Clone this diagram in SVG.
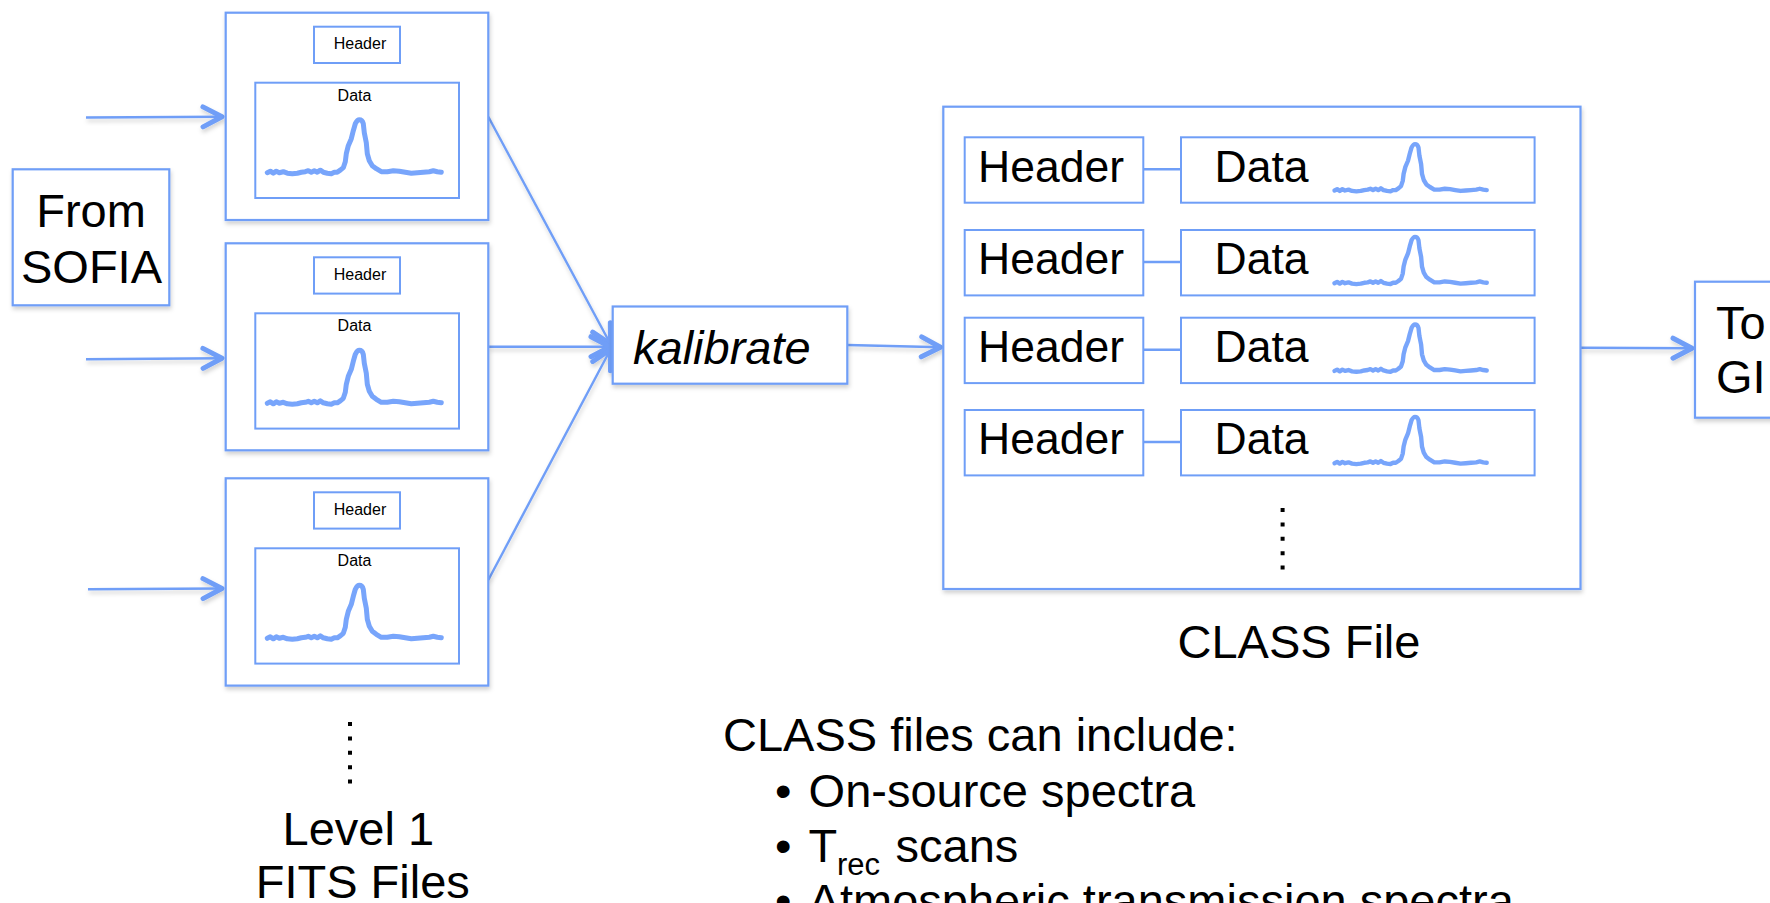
<svg xmlns="http://www.w3.org/2000/svg" xmlns:xlink="http://www.w3.org/1999/xlink" width="1770" height="903" viewBox="0 0 1770 903">
<style>
  .box { fill: #ffffff; stroke: #6f9ef7; stroke-width: 2.2; }
  .inner { fill: #ffffff; stroke: #6f9ef7; stroke-width: 2; }
  .t { font-family: "Liberation Sans", Arial, Helvetica, sans-serif; fill: #000000; }
  .big { font-size: 47px; }
  .row { font-size: 44.5px; }
  .small { font-size: 16px; }
  .conn { fill: none; stroke: #6f9ef7; stroke-width: 2.4; }
  .spec { fill: none; stroke: #78a5fb; stroke-width: 5; stroke-linecap: round; stroke-linejoin: round; }
  .dots { fill: none; stroke: #000000; stroke-width: 4; stroke-dasharray: 4 10.4; }
</style>
<defs>
  <filter id="shadow" x="-10%" y="-10%" width="120%" height="125%">
    <feDropShadow dx="1" dy="3" stdDeviation="2" flood-color="#000000" flood-opacity="0.18"/>
  </filter>
  <marker id="chev" markerUnits="userSpaceOnUse" markerWidth="40" markerHeight="40" refX="0" refY="0" orient="auto" overflow="visible">
    <path d="M -20 -10 L -1 0 L -20 10" fill="none" stroke="#6f9ef7" stroke-width="5" stroke-linecap="round" stroke-linejoin="round"/>
  </marker>
  <path id="spectrum" d="M -92 52 L -89 50.5 L -86 52.5 L -83 50.5 L -80 52 L -76 51 L -72 52.5 L -67 53 L -62 52.5 L -58 51.5 L -54 51 L -51 50 L -48 51.5 L -45 50 L -42 51.5 L -39 49.5 L -36 51.5 L -32 52.5 L -28 53 L -25 51.5 L -22 51.5 L -19 49.5 L -16 47 L -14 41 L -13 33 L -11 25 L -8 18 L -6 10 L -4 3 Q -2 -1 0 -1 Q 3 -1 4 3 L 5 12 L 7 22 L 8 33 L 10 40 L 13 45 L 17 48 L 22 51 L 28 51 L 34 50 L 40 50.5 L 46 51.5 L 52 52.5 L 58 52 L 64 51.5 L 70 51 L 74 50 L 78 51 L 82 51.5"/>
</defs>

<!-- connectors -->
<g id="connectors" filter="url(#shadow)">
  <line class="conn" x1="86" y1="117.5" x2="223" y2="116.8" marker-end="url(#chev)"/>
  <line class="conn" x1="86" y1="359.3" x2="223" y2="358.2" marker-end="url(#chev)"/>
  <line class="conn" x1="88" y1="589.3" x2="223" y2="588.5" marker-end="url(#chev)"/>
  <line class="conn" x1="488.3" y1="116.7" x2="611" y2="345" marker-end="url(#chev)"/>
  <line class="conn" x1="488.3" y1="346.7" x2="611" y2="346.7" marker-end="url(#chev)"/>
  <line class="conn" x1="488.3" y1="580" x2="611" y2="348.5" marker-end="url(#chev)"/>
  <line class="conn" x1="847.3" y1="345" x2="941.5" y2="347.3" marker-end="url(#chev)"/>
  <line class="conn" x1="1581" y1="347.7" x2="1693" y2="348.3" marker-end="url(#chev)"/>
</g>

<!-- From SOFIA -->
<g id="from-sofia">
  <rect class="box" x="12.7" y="169.3" width="156.6" height="136" filter="url(#shadow)"/>
  <text class="t big" x="91" y="226.7" text-anchor="middle">From</text>
  <text class="t big" x="91.5" y="283" text-anchor="middle">SOFIA</text>
</g>

<!-- FITS file 1 -->
<g id="fits1" transform="translate(0,12.7)">
  <rect class="box" x="225.7" y="0" width="262.6" height="207.3" filter="url(#shadow)"/>
  <rect class="inner" x="314" y="14" width="86" height="36.3"/>
  <text class="t small" x="360" y="36.6" text-anchor="middle">Header</text>
  <rect class="inner" x="255.3" y="70" width="203.7" height="115.3"/>
  <text class="t small" x="354.5" y="88" text-anchor="middle">Data</text>
  <use xlink:href="#spectrum" class="spec" transform="translate(359.3,108)"/>
</g>

<!-- FITS file 2 -->
<g id="fits2" transform="translate(0,243.3)">
  <rect class="box" x="225.7" y="0" width="262.6" height="207" filter="url(#shadow)"/>
  <rect class="inner" x="314" y="14" width="86" height="36.3"/>
  <text class="t small" x="360" y="36.6" text-anchor="middle">Header</text>
  <rect class="inner" x="255.3" y="70" width="203.7" height="115.3"/>
  <text class="t small" x="354.5" y="88" text-anchor="middle">Data</text>
  <use xlink:href="#spectrum" class="spec" transform="translate(359.3,108)"/>
</g>

<!-- FITS file 3 -->
<g id="fits3" transform="translate(0,478.3)">
  <rect class="box" x="225.7" y="0" width="262.6" height="207.3" filter="url(#shadow)"/>
  <rect class="inner" x="314" y="14" width="86" height="36.3"/>
  <text class="t small" x="360" y="36.6" text-anchor="middle">Header</text>
  <rect class="inner" x="255.3" y="70" width="203.7" height="115.3"/>
  <text class="t small" x="354.5" y="88" text-anchor="middle">Data</text>
  <use xlink:href="#spectrum" class="spec" transform="translate(359.3,108)"/>
</g>

<!-- FITS caption -->
<g id="fits-caption">
  <line class="dots" x1="350" y1="722" x2="350" y2="786"/>
  <text class="t big" x="358.3" y="845" text-anchor="middle" font-size="46">Level 1</text>
  <text class="t big" x="362.8" y="898.3" text-anchor="middle" font-size="46">FITS Files</text>
</g>

<!-- kalibrate -->
<g id="kalibrate">
  <rect class="box" x="612.7" y="306.5" width="234.6" height="77.2" filter="url(#shadow)"/>
  <text class="t big" x="633" y="364" font-style="italic">kalibrate</text>
</g>

<!-- CLASS file -->
<g id="class-file">
  <rect class="box" x="943.3" y="106.7" width="637.2" height="482.3" filter="url(#shadow)"/>
  <g id="class-row1" transform="translate(0,137.3)">
    <rect class="inner" x="964.7" y="0" width="178.6" height="65.4"/>
    <line class="conn" x1="1143.3" y1="32" x2="1181" y2="32"/>
    <rect class="inner" x="1181" y="0" width="353.6" height="65.4"/>
    <text class="t row" x="978" y="44.4">Header</text>
    <text class="t row" x="1214.6" y="44.4">Data</text>
    <use xlink:href="#spectrum" class="spec" transform="translate(1415,7.7) scale(0.875)"/>
  </g>
  <g id="class-row2" transform="translate(0,230)">
    <rect class="inner" x="964.7" y="0" width="178.6" height="65.4"/>
    <line class="conn" x1="1143.3" y1="32" x2="1181" y2="32"/>
    <rect class="inner" x="1181" y="0" width="353.6" height="65.4"/>
    <text class="t row" x="978" y="44.4">Header</text>
    <text class="t row" x="1214.6" y="44.4">Data</text>
    <use xlink:href="#spectrum" class="spec" transform="translate(1415,7.7) scale(0.875)"/>
  </g>
  <g id="class-row3" transform="translate(0,317.7)">
    <rect class="inner" x="964.7" y="0" width="178.6" height="65.4"/>
    <line class="conn" x1="1143.3" y1="32" x2="1181" y2="32"/>
    <rect class="inner" x="1181" y="0" width="353.6" height="65.4"/>
    <text class="t row" x="978" y="44.4">Header</text>
    <text class="t row" x="1214.6" y="44.4">Data</text>
    <use xlink:href="#spectrum" class="spec" transform="translate(1415,7.7) scale(0.875)"/>
  </g>
  <g id="class-row4" transform="translate(0,410)">
    <rect class="inner" x="964.7" y="0" width="178.6" height="65.4"/>
    <line class="conn" x1="1143.3" y1="32" x2="1181" y2="32"/>
    <rect class="inner" x="1181" y="0" width="353.6" height="65.4"/>
    <text class="t row" x="978" y="44.4">Header</text>
    <text class="t row" x="1214.6" y="44.4">Data</text>
    <use xlink:href="#spectrum" class="spec" transform="translate(1415,7.7) scale(0.875)"/>
  </g>
  <line class="dots" x1="1282.6" y1="508" x2="1282.6" y2="570"/>
  <text class="t big" x="1299" y="658.3" text-anchor="middle">CLASS File</text>
</g>

<!-- To GI -->
<g id="to-gi">
  <rect class="box" x="1695" y="281.7" width="90" height="136" filter="url(#shadow)"/>
  <text class="t big" x="1716" y="339">To</text>
  <text class="t big" x="1716" y="393.3">GI</text>
</g>

<!-- notes -->
<g id="notes">
  <text class="t big" x="723" y="751">CLASS files can include:</text>
  <text class="t big" x="775" y="806.7">•</text>
  <text class="t big" x="808.6" y="806.7">On-source spectra</text>
  <text class="t big" x="775" y="861.7">•</text>
  <text class="t big" x="808.6" y="861.7">T</text>
  <text class="t" x="837" y="875" font-size="31">rec</text>
  <text class="t big" x="895.5" y="861.7">scans</text>
  <text class="t big" x="775" y="917">•</text>
  <text class="t big" x="808.6" y="917">Atmospheric transmission spectra</text>
</g>
</svg>
